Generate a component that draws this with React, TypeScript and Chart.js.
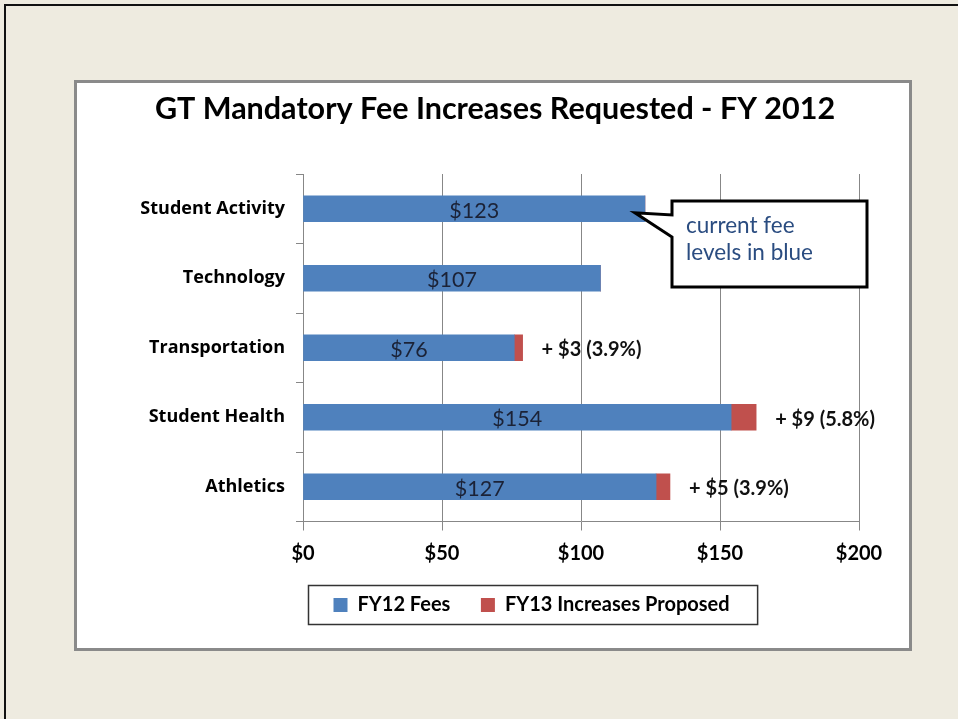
import React, { useEffect, useRef } from 'react';
import { Chart, registerables } from 'chart.js';

Chart.register(...registerables);

const chartTitle = 'GT Mandatory Fee Increases Requested - FY 2012';
const categories = ['Student Activity', 'Technology', 'Transportation', 'Student Health', 'Athletics'];
const seriesNames = ['FY12 Fees', 'FY13 Increases Proposed'];
const fy12Fees = [123, 107, 76, 154, 127];
const fy13Increases = [0, 0, 3, 9, 5];
const increaseLabels = ['', '', '+ $3 (3.9%)', '+ $9 (5.8%)', '+ $5 (3.9%)'];
const xTickValues = [0, 50, 100, 150, 200];
const calloutLines = ['current fee', 'levels in blue'];

const FONT = 'Lato, "Open Sans", "DejaVu Sans", sans-serif';
const FONT2 = '"Open Sans", Lato, "DejaVu Sans", sans-serif';
const BLUE = '#4F81BD';
const RED = '#C0504D';
const GRID = '#878787';

export default function App() {
  const ref = useRef<HTMLCanvasElement>(null);

  useEffect(() => {
    document.body.style.margin = '0';
    const canvas = ref.current;
    if (!canvas) return;

    const framePlugin = {
      id: 'frame',
      beforeDraw(chart: any) {
        const ctx = chart.ctx;
        ctx.save();
        ctx.fillStyle = '#EEEBE0';
        ctx.fillRect(0, 0, chart.width, chart.height);
        ctx.fillStyle = '#111111';
        ctx.fillRect(4, 4, chart.width, 2);
        ctx.fillRect(4, 4, 2, chart.height);
        ctx.fillStyle = '#ffffff';
        ctx.fillRect(75, 81, 836, 569);
        ctx.strokeStyle = '#8a8a8a';
        ctx.lineWidth = 3;
        ctx.strokeRect(75.5, 81.5, 835, 568);
        ctx.restore();
      },
    };

    const labelPlugin = {
      id: 'barLabels',
      afterDatasetsDraw(chart: any) {
        const ctx = chart.ctx;
        const base = chart.getDatasetMeta(0).data;
        const inc = chart.getDatasetMeta(1).data;
        ctx.save();
        ctx.textBaseline = 'middle';
        // values inside the blue bars
        ctx.font = `21.5px ${FONT}`;
        ctx.fillStyle = '#1b2236';
        ctx.textAlign = 'center';
        base.forEach((el: any, i: number) => {
          ctx.fillText('$' + fy12Fees[i], (el.x + el.base) / 2, el.y + 2);
        });
        // increase annotations
        ctx.font = `bold 20px ${FONT}`;
        ctx.fillStyle = '#111111';
        ctx.textAlign = 'left';
        inc.forEach((el: any, i: number) => {
          if (!increaseLabels[i]) return;
          ctx.fillText(increaseLabels[i], el.x + 19, el.y + 2);
        });
        // callout
        const tipEl = base[0];
        const tipX = tipEl.x - 10;
        const tipY = tipEl.y + 4;
        const bx = 672, by = 201, bw = 195, bh = 86;
        ctx.beginPath();
        ctx.moveTo(bx, by);
        ctx.lineTo(bx + bw, by);
        ctx.lineTo(bx + bw, by + bh);
        ctx.lineTo(bx, by + bh);
        ctx.lineTo(bx, 237);
        ctx.lineTo(tipX, tipY);
        ctx.lineTo(bx, 215);
        ctx.closePath();
        ctx.fillStyle = '#ffffff';
        ctx.fill();
        ctx.lineWidth = 3;
        ctx.lineJoin = 'miter';
        ctx.strokeStyle = '#000000';
        ctx.stroke();
        ctx.font = `22.5px ${FONT}`;
        ctx.fillStyle = '#2A4C80';
        ctx.textAlign = 'left';
        ctx.fillText(calloutLines[0], 686, 226);
        ctx.fillText(calloutLines[1], 686, 253);
        ctx.restore();
      },
      afterDraw(chart: any) {
        const lg = chart.legend;
        if (!lg || !lg.legendHitBoxes || !lg.legendHitBoxes.length) return;
        const hb = lg.legendHitBoxes;
        const first = hb[0];
        const last = hb[hb.length - 1];
        const cy = first.top + first.height / 2;
        const ctx = chart.ctx;
        ctx.save();
        ctx.strokeStyle = '#333333';
        ctx.lineWidth = 1.5;
        const left = first.left - 25;
        const right = last.left + last.width + 28;
        ctx.strokeRect(left, cy - 19.5, right - left, 39);
        ctx.restore();
      },
    };

    const chart = new Chart(canvas, {
      type: 'bar',
      data: {
        labels: categories,
        datasets: [
          { label: seriesNames[0], data: fy12Fees, backgroundColor: BLUE, borderWidth: 0, barThickness: 26 },
          { label: seriesNames[1], data: fy13Increases, backgroundColor: RED, borderWidth: 0, barThickness: 26 },
        ],
      },
      options: {
        responsive: false,
        animation: false,
        devicePixelRatio: 1,
        indexAxis: 'y',
        layout: { padding: { top: 85, left: 131, right: 99, bottom: 94 } },
        plugins: {
          title: {
            display: true,
            text: chartTitle,
            color: '#000000',
            font: { family: FONT, size: 30.5, weight: 'bold' },
            padding: { top: 5.7, bottom: 46.7 },
          },
          legend: {
            position: 'bottom',
            align: 'start',
            fullSize: false,
            labels: {
              boxWidth: 14,
              boxHeight: 14,
              padding: 30.5,
              color: '#000000',
              font: { family: FONT, size: 20, weight: 'bold' },
            },
          },
          tooltip: { enabled: false },
        },
        scales: {
          x: {
            stacked: true,
            min: 0,
            max: 200,
            afterBuildTicks: (scale: any) => {
              scale.ticks = xTickValues.map((v) => ({ value: v }));
            },
            afterFit: (scale: any) => {
              scale.height = 43;
            },
            ticks: {
              callback: (v: any) => '$' + v,
              color: '#000000',
              font: { family: FONT, size: 20, weight: 'bold' },
              padding: 11,
              maxRotation: 0,
            },
            grid: { color: GRID, tickLength: 9, lineWidth: 1 },
            border: { color: GRID, width: 1 },
          },
          y: {
            stacked: true,
            afterFit: (scale: any) => {
              scale.width = 172;
            },
            ticks: {
              color: '#000000',
              font: { family: FONT2, size: 18, weight: 'bold' },
              padding: 11,
            },
            grid: { drawOnChartArea: false, tickLength: 7, color: GRID },
            border: { color: GRID, width: 1 },
          },
        },
      },
      plugins: [framePlugin, labelPlugin],
    } as any);

    return () => chart.destroy();
  }, []);

  return <canvas ref={ref} width={958} height={719} style={{ display: 'block' }} />;
}
